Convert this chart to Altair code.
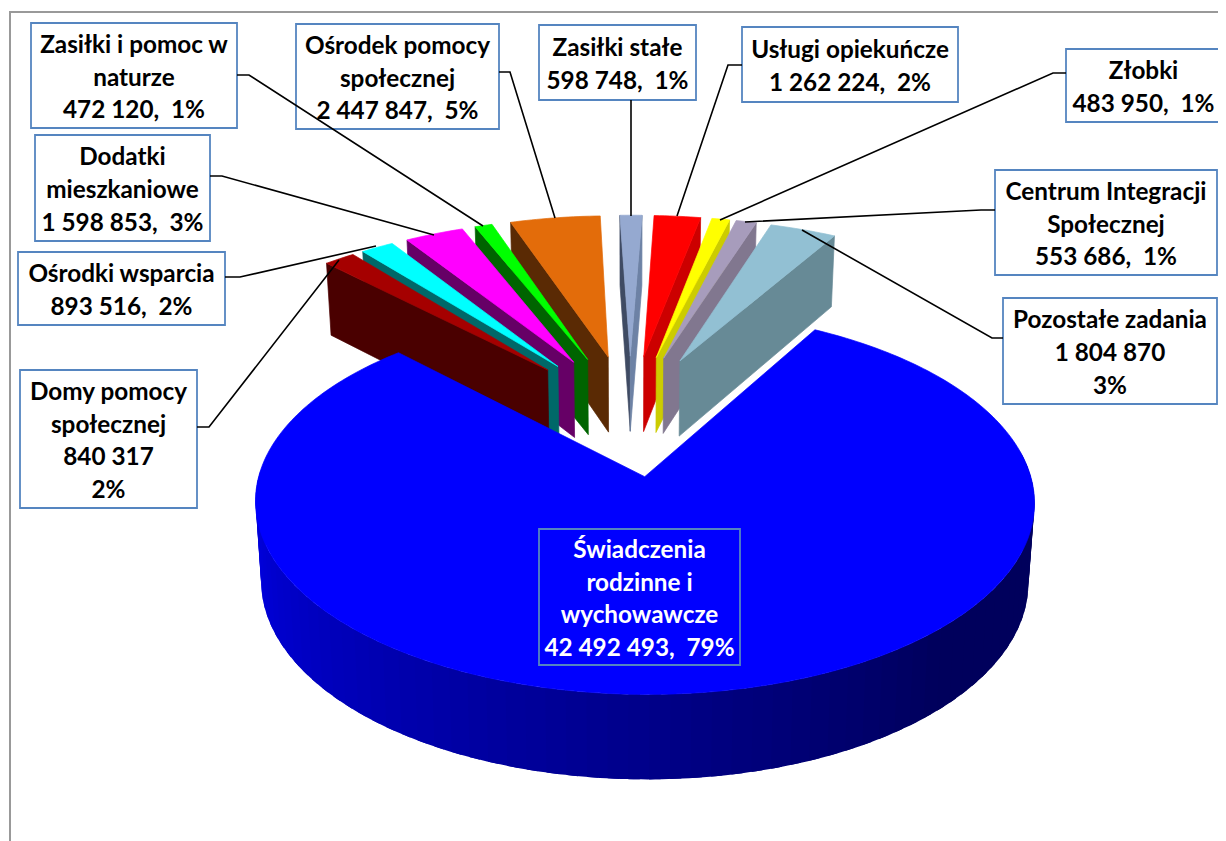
import math
import altair as alt
import pandas as pd

# ---------- data ----------
names = ["Świadczenia rodzinne i wychowawcze", "Domy pomocy społecznej", "Ośrodki wsparcia",
         "Dodatki mieszkaniowe", "Zasiłki i pomoc w naturze", "Ośrodek pomocy społecznej",
         "Zasiłki stałe", "Usługi opiekuńcze", "Złobki", "Centrum Integracji Społecznej",
         "Pozostałe zadania"]
values = [42492493, 840317, 893516, 1598853, 472120, 2447847, 598748, 1262224, 483950, 553686, 1804870]
percents = [79, 2, 2, 3, 1, 5, 1, 2, 1, 1, 3]
top_colors = ["#0000ff", "#a50000", "#00ffff", "#ff00ff", "#00ff00", "#e36c0a",
              "#95a9d0", "#ff0000", "#ffff00", "#a79cbc", "#92c0d3"]
wall_colors = ["#000080", "#4a0000", "#006868", "#660066", "#006400", "#5a2a04",
               "#6d82a5", "#cc0000", "#cccc00", "#81778f", "#678a96"]
left_wall_override = {6: "#3f4b63"}

# ---------- projection ----------
cx, cy, f, g, k = 630.0, 414.0, 369.0, 172.5, 0.127
e, H, k2, shrink = 0.35, 76.9, 0.0707, 0.985
blue_dx = -2.0
start = -44.0  # angle of the first small slice's left edge


def proj(theta, phi, r=1.0, bottom=False, dx=0.0):
    X = r * math.sin(math.radians(theta)) + e * math.sin(math.radians(phi))
    Y = r * math.cos(math.radians(theta)) + e * math.cos(math.radians(phi))
    d = 1 + k * Y
    x = f * X / d
    y = cy - g * Y / d
    if bottom:
        x *= shrink
        y += H / (1 + k2 * Y)
    return (cx + dx + x, y)


total = sum(values)
angles = [v / total * 360 for v in values]
spans = []
a = start
for ang in angles[1:]:
    spans.append((a, a + ang))
    a += ang
blue_from, blue_to = a, start + 360

pid = [0]


def poly(rows, pts, color):
    pid[0] += 1
    for i, (x, y) in enumerate(list(pts) + [pts[0]]):
        rows.append({"poly": pid[0], "ord": i, "x": x, "y": y, "c": color})


def arc(a0, a1, phi, bottom=False, dx=0.0):
    n = max(2, int(abs(a1 - a0)) + 2)
    return [proj(a0 + (a1 - a0) * i / (n - 1), phi, 1.0, bottom, dx) for i in range(n)]


small_rows, wall_rows, blue_rows = [], [], []


def small(i):
    a0, a1 = spans[i]
    phi = (a0 + a1) / 2
    ap, ab = proj(0, phi, 0.0), proj(0, phi, 0.0, True)
    L, Lb = proj(a0, phi), proj(a0, phi, 1.0, True)
    R, Rb = proj(a1, phi), proj(a1, phi, 1.0, True)
    col = wall_colors[i + 1]
    if L[0] < ap[0]:
        poly(small_rows, [L, ap, ab, Lb], left_wall_override.get(i + 1, col))
    if R[0] > ap[0]:
        poly(small_rows, [R, ap, ab, Rb], col)
    poly(small_rows, [ap] + arc(a0, a1, phi), top_colors[i + 1])


# back-to-front order: middle slices first, outermost last
for i in [4, 3, 2, 1, 0]:
    small(i)
for i in [5, 6, 7, 8, 9]:
    small(i)

# blue wall, shaded strip by strip; each strip overlaps the next one
phi_b = (blue_from + blue_to) / 2
strips = 70
for s in range(strips):
    t0 = 272 - (272 - 82) * s / strips
    t1 = max(82, t0 - (272 - 82) / strips - 1.5)
    u = s / (strips - 1)
    b = int(232 - 140 * min(1, u / 0.72))
    poly(wall_rows, arc(t0, t1, phi_b, False, blue_dx) + arc(t1, t0, phi_b, True, blue_dx), f"#0000{b:02x}")
poly(blue_rows, [proj(0, phi_b, 0.0, False, blue_dx)] + arc(blue_from, blue_to, phi_b, False, blue_dx), top_colors[0])


# ---------- labels ----------
def num(v):
    return f"{v:,}".replace(",", " ")


def lab(i):
    return f"{num(values[i])},\u00a0 {percents[i]}%"


label_lines = [
    ["Świadczenia", "rodzinne i", "wychowawcze", lab(0)],
    ["Domy pomocy", "społecznej", num(values[1]), f"{percents[1]}%"],
    ["Ośrodki wsparcia", lab(2)],
    ["Dodatki", "mieszkaniowe", lab(3)],
    ["Zasiłki i pomoc w", "naturze", lab(4)],
    ["Ośrodek pomocy", "społecznej", lab(5)],
    ["Zasiłki stałe", lab(6)],
    ["Usługi opiekuńcze", lab(7)],
    ["Złobki", lab(8)],
    ["Centrum Integracji", "Społecznej", lab(9)],
    ["Pozostałe zadania", num(values[10]), f"{percents[10]}%"],
]
boxes = [(539, 529, 740, 665), (20, 370, 197, 508), (18, 252, 225, 325), (35, 135, 210, 241),
         (31, 23, 237, 128), (296, 24, 499, 129), (539, 25, 696, 100), (742, 27, 958, 102),
         (1066, 49, 1221, 122), (995, 170, 1217, 275), (1003, 298, 1217, 404)]
leaders = [[(197, 427), (209, 427), (339, 260)], [(225, 277), (240, 277), (376, 246)],
           [(210, 176), (222, 176), (434, 235)], [(237, 75), (249, 75), (483, 226)],
           [(499, 72), (510, 72), (555, 218)], [(631, 100), (631, 216)],
           [(742, 65), (728, 65), (677, 216)], [(1066, 73), (1053, 73), (720, 220)],
           [(995, 210), (981, 210), (745, 222)], [(1003, 338), (992, 338), (802, 230)]]
frame = [(10, 841), (10, 12), (1226, 12)]

box_df = pd.DataFrame([{"x": b[0], "y": b[1], "x2": b[2], "y2": b[3],
                        "w": "white" if i else "#0000ff"} for i, b in enumerate(boxes)])
txt = []
for i, (b, lines) in enumerate(zip(boxes, label_lines)):
    mid = (b[1] + b[3]) / 2 + 3
    step = 32.6
    for j, t in enumerate(lines):
        txt.append({"x": (b[0] + b[2]) / 2, "y": mid + (j - (len(lines) - 1) / 2) * step, "t": t,
                    "c": "white" if i == 0 else "black"})
txt_df = pd.DataFrame(txt)
lead_df = pd.DataFrame([{"id": i, "ord": j, "x": p[0], "y": p[1]} for i, l in enumerate(leaders) for j, p in enumerate(l)])
frame_df = pd.DataFrame([{"ord": j, "x": p[0], "y": p[1]} for j, p in enumerate(frame)])

W, HH = 1210, 833
xs = alt.Scale(domain=[8, 8 + W], nice=False, zero=False)
ys = alt.Scale(domain=[8 + HH, 8], nice=False, zero=False)
X = alt.X("x:Q", scale=xs, axis=None)
Y = alt.Y("y:Q", scale=ys, axis=None)


def polygons(rows, width):
    return alt.Chart(pd.DataFrame(rows)).mark_line(strokeWidth=width).encode(
        x=X, y=Y, order="ord:Q", detail="poly:N",
        fill=alt.Fill("c:N", scale=None), stroke=alt.Stroke("c:N", scale=None))


frame_l = alt.Chart(frame_df).mark_line(color="#999999", strokeWidth=2).encode(x=X, y=Y, order="ord:Q")
leads = alt.Chart(lead_df).mark_line(color="black", strokeWidth=1.6).encode(x=X, y=Y, order="ord:Q", detail="id:N")
rects = alt.Chart(box_df).mark_rect(stroke="#5585c0", strokeWidth=1.8).encode(
    x=X, y=Y, x2="x2:Q", y2="y2:Q", fill=alt.Fill("w:N", scale=None))
texts = alt.Chart(txt_df).mark_text(font="Lato", fontWeight="bold", fontSize=24.3, align="center", baseline="middle").encode(
    x=X, y=Y, text="t:N", color=alt.Color("c:N", scale=None))

chart = (frame_l + polygons(small_rows, 0.7) + polygons(wall_rows, 0) + polygons(blue_rows, 0.7)
         + rects + leads + texts).properties(
    width=W, height=HH, padding=0, autosize=alt.AutoSizeParams(type="none"), background="white"
).configure_view(stroke=None)

chart.save("out.html", embed_options={"renderer": "svg", "actions": False})
